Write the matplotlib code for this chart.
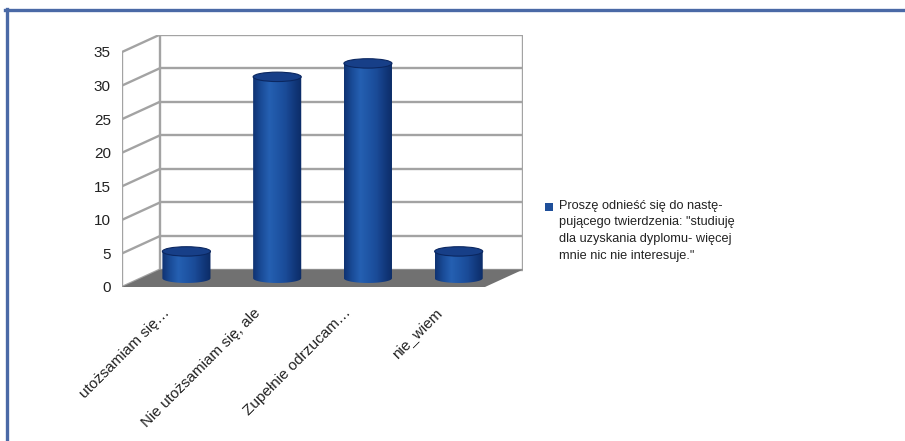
import numpy as np
import matplotlib
matplotlib.use('Agg')
import matplotlib.pyplot as plt
from matplotlib.patches import Polygon, Ellipse, Rectangle
from matplotlib.lines import Line2D
from matplotlib.colors import LinearSegmentedColormap

plt.rcParams['font.family'] = ['Liberation Sans', 'DejaVu Sans']

categories = ['utożsamiam się…', 'Nie utożsamiam się, ale', 'Zupełnie odrzucam…', 'nie_wiem']
values = [4, 30, 32, 4]
yticks = [0, 5, 10, 15, 20, 25, 30, 35]
legend_label = ('Proszę odnieść się do nastę-\n'
                'pującego twierdzenia: "studiuję\n'
                'dla uzyskania dyplomu- więcej\n'
                'mnie nic nie interesuje."')

# oblique "3D" depth offset, in data units
DX, DY = 0.42, 2.6
W = 0.53      # cylinder width
RY = 0.7      # half height of the cylinder ellipses

fig = plt.figure(figsize=(9.05, 4.41), dpi=100)
px_x, px_y = 90.75, 235 / 35
left, bottom = 122, 441 - 287
ax = fig.add_axes([left / 905, bottom / 441,
                   (4 + DX) * px_x / 905, (35 + DY) * px_y / 441])
for s in ax.spines.values():
    s.set_visible(False)

wall = dict(color='#a3a3a3', lw=1.7, zorder=1, solid_capstyle='butt')
x0, x1 = -0.5, len(categories) - 0.5
for y in yticks:
    ax.plot([x0 + DX, x1 + DX], [y + DY, y + DY], **wall)
    ax.plot([x0, x0 + DX], [y, y + DY], **wall)
ax.plot([x0, x0], [0, 35], **wall)
ax.plot([x0 + DX, x0 + DX], [DY, 35 + DY], **wall)
ax.plot([x1 + DX, x1 + DX], [DY, 35 + DY], **wall)

# floor
ax.add_patch(Polygon([(x0, 0), (x1, 0), (x1 + DX, DY), (x0 + DX, DY)],
                     closed=True, facecolor='#717171', edgecolor='none', zorder=2))

cmap = LinearSegmentedColormap.from_list(
    'cyl', ['#0f3272', '#1a4c98', '#2560b2', '#1f56a6', '#1a4b98', '#123a7e', '#0c2b66'])
grad = np.linspace(0, 1, 200).reshape(1, -1)

for i, v in enumerate(values):
    cx = i + DX / 2
    yb = DY / 2
    yt = v + DY / 2
    t = np.linspace(np.pi, 2 * np.pi, 60)
    arc = np.column_stack([cx + W / 2 * np.cos(t), yb + RY * np.sin(t)])
    body = np.vstack([[[cx - W / 2, yt]], arc, [[cx + W / 2, yt]]])
    clip = Polygon(body, closed=True, facecolor='none', edgecolor='none', zorder=3)
    ax.add_patch(clip)
    im = ax.imshow(grad, cmap=cmap, aspect='auto', zorder=3,
                   extent=(cx - W / 2, cx + W / 2, yb - RY, yt))
    im.set_clip_path(clip)
    ax.add_patch(Ellipse((cx, yt), W, 2 * RY, facecolor='#173f88',
                         edgecolor='#0b2760', lw=0.8, zorder=4))

ax.set_xlim(-0.5, 3.5 + DX)
ax.set_ylim(0, 35 + DY)

ax.set_yticks(yticks)
ax.set_yticklabels([str(y) for y in yticks], fontsize=11, color='#222222')
ax.set_xticks(range(len(categories)))
ax.set_xticklabels(categories, rotation=45, ha='right', va='center',
                   rotation_mode='anchor', fontsize=11, color='#222222')
ax.tick_params(axis='y', length=0, pad=8)
ax.tick_params(axis='x', length=0, pad=17)

# legend
fig.patches.append(Rectangle((545 / 905, (441 - 211) / 441), 8 / 905, 8 / 441,
                             transform=fig.transFigure, facecolor='#1f4f9a',
                             edgecolor='none'))
fig.text(559 / 905, (441 - 200) / 441, legend_label, fontsize=9.2, color='#222222',
         va='top', ha='left', linespacing=1.5)

# blue page frame
fig.lines.append(Line2D([5 / 905, 1], [1 - 10 / 441, 1 - 10 / 441],
                        transform=fig.transFigure, color='#4a69a6', lw=2.4))
fig.lines.append(Line2D([6.5 / 905, 6.5 / 905], [0, 1 - 9 / 441],
                        transform=fig.transFigure, color='#4a69a6', lw=2.4))

fig.savefig('out.png', dpi=100)
